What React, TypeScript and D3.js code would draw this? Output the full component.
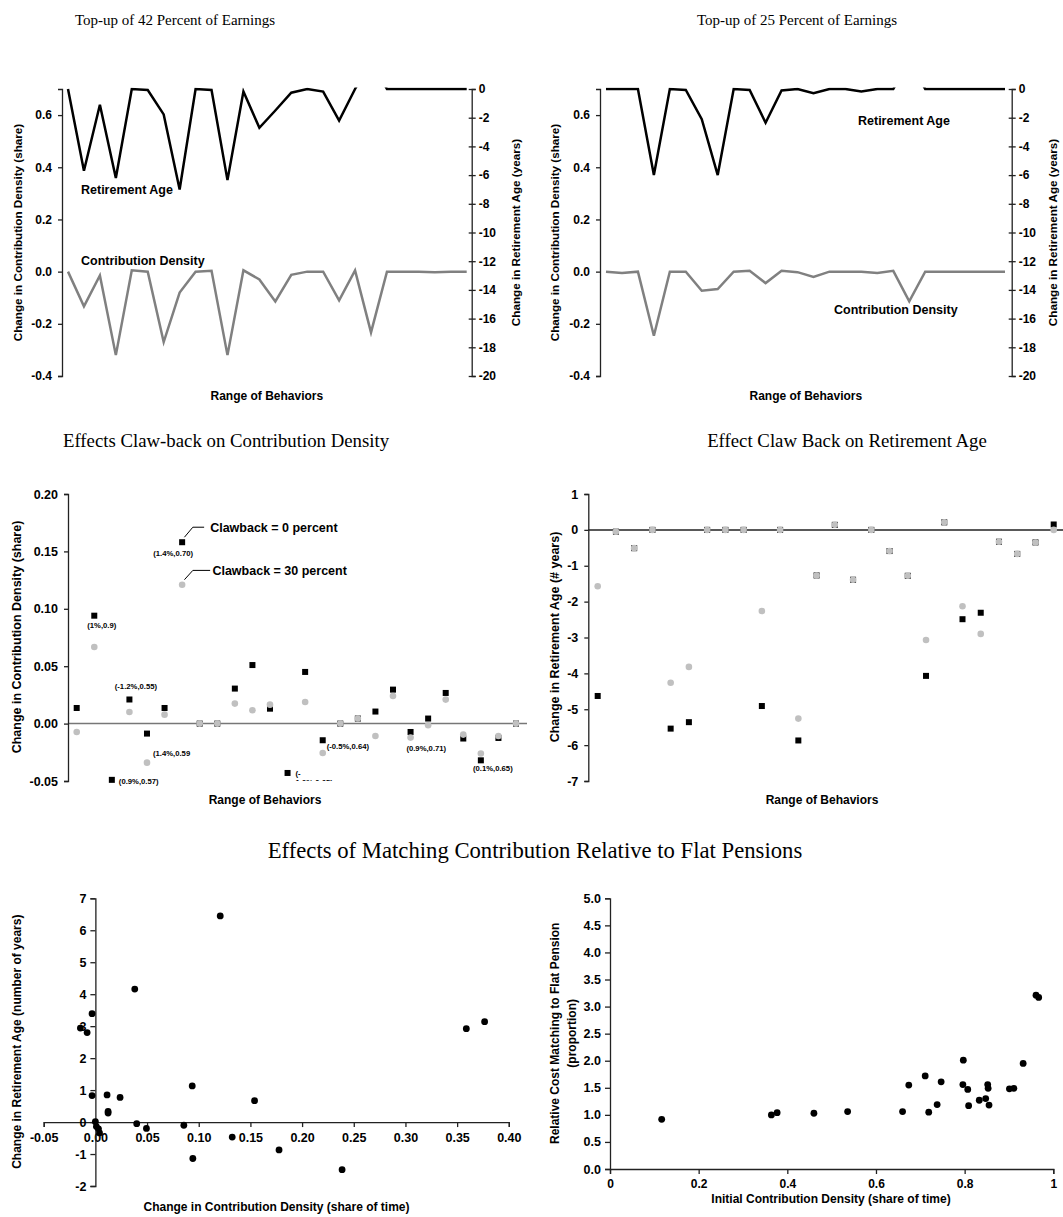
import React, { useEffect, useRef } from 'react';
import * as d3 from 'd3';

const SANS = "Arial, 'Liberation Sans', Helvetica, sans-serif";
const SERIF = "'Times New Roman', 'Liberation Serif', serif";

// 26 behaviour settings along "Range of Behaviors"
const behaviorIds = [1, 2, 3, 4, 5, 6, 7, 8, 9, 10, 11, 12, 13, 14, 15, 16, 17, 18, 19, 20, 21, 22, 23, 24, 25, 26];

// top-up panels (density on left axis, retirement age on right axis)
const topUp42Density = [0, -0.133, -0.015, -0.32, 0.005, 0, -0.27, -0.08, 0, 0.003, -0.32, 0.005, -0.03, -0.114, -0.012, 0, 0, -0.11, 0.005, -0.233, 0, 0, 0, -0.002, 0, 0];
const topUp42RetAge = [0, -5.7, -1.1, -6.2, 0, -0.07, -1.77, -7.0, 0, -0.07, -6.35, -0.18, -2.7, -1.5, -0.26, 0, -0.18, -2.2, 0, 2.0, 0, 0, 0, 0, 0, 0];
const topUp25Density = [0, -0.005, 0, -0.246, 0, 0, -0.073, -0.067, 0, 0.003, -0.044, 0.003, -0.002, -0.02, 0, 0, 0, -0.005, 0.003, -0.114, 0, 0, 0, 0, 0, 0];
const topUp25RetAge = [0, 0, 0, -6.0, 0, -0.07, -2.1, -6.0, 0, -0.07, -2.35, -0.1, 0, -0.3, 0, 0, -0.18, 0, 0, 2.0, 0, 0, 0, 0, 0, 0];
const densityTicks = [-0.4, -0.2, 0, 0.2, 0.4, 0.6];
const retAgeTicks = [0, -2, -4, -6, -8, -10, -12, -14, -16, -18, -20];

// claw-back panels
const claw0Density = [0.0136, 0.094, -0.049, 0.021, -0.0087, 0.0136, 0.158, 0, 0, 0.0305, 0.051, 0.013, -0.043, 0.045, -0.0145, 0, 0.0044, 0.0105, 0.0296, -0.0073, 0.0044, 0.0267, -0.013, -0.032, -0.0125, 0];
const claw30Density = [-0.0073, 0.0667, null, 0.0101, -0.034, 0.0078, 0.121, 0, 0, 0.0174, 0.0116, 0.0165, null, 0.0188, -0.0256, 0, 0.0044, -0.0108, 0.024, -0.0122, -0.0015, 0.0209, -0.0096, -0.026, -0.0108, 0];
const claw0RetAge = [-4.63, -0.05, -0.51, 0, -5.54, -5.36, 0, 0, 0, -4.91, 0, -5.87, -1.27, 0.14, -1.39, 0, -0.59, -1.28, -4.07, 0.21, -2.49, -2.31, -0.33, -0.67, -0.35, 0.15];
const claw30RetAge = [-1.57, -0.05, -0.51, 0, -4.26, -3.82, 0, 0, 0, -2.26, 0, -5.26, -1.27, 0.14, -1.39, 0, -0.59, -1.28, -3.07, 0.21, -2.13, -2.9, -0.33, -0.67, -0.35, 0];
const clawDensityTicks = [-0.05, 0, 0.05, 0.1, 0.15, 0.2];
const clawRetTicks = [1, 0, -1, -2, -3, -4, -5, -6, -7];
const clawNotes = [
  { idx: 6, text: '(1.4%,0.70)', dx: -9, dy: 14, anchor: 'middle', clip: false },
  { idx: 1, text: '(1%,0.9)', dx: 7.5, dy: 12, anchor: 'middle', clip: false },
  { idx: 3, text: '(-1.2%,0.55)', dx: 6.5, dy: -10, anchor: 'middle', clip: false },
  { idx: 4, text: '(1.4%,0.59', dx: 6, dy: 22, anchor: 'start', clip: false },
  { idx: 2, text: '(0.9%,0.57)', dx: 7, dy: 4.5, anchor: 'start', clip: false },
  { idx: 14, text: '(-0.5%,0.64)', dx: 4, dy: 9, anchor: 'start', clip: false },
  { idx: 19, text: '(0.9%,0.71)', dx: 15.7, dy: 19, anchor: 'middle', clip: false },
  { idx: 23, text: '(0.1%,0.65)', dx: 12, dy: 10.5, anchor: 'middle', clip: false },
  { idx: 12, text: '(-', dx: 8, dy: 3, anchor: 'start', clip: false },
  { idx: 12, text: '1.0%,0.65)', dx: 8, dy: 12, anchor: 'start', clip: true },
];

// matching vs flat pension
const matchDensityChange = [0.1208, 0.0381, -0.0032, -0.0145, -0.008, -0.0032, 0.0113, 0.0239, 0.0123, 0.0123, 0.0937, 0.154, 0, 0.001, 0.003, 0.004, 0.04, 0.0494, 0.0856, 0.1324, 0.0943, 0.1777, 0.2387, 0.3589, 0.3766];
const matchRetAgeChange = [6.45, 4.16, 3.39, 2.94, 2.8, 0.83, 0.85, 0.77, 0.33, 0.28, 1.13, 0.67, 0.01, -0.14, -0.21, -0.34, -0.05, -0.2, -0.1, -0.47, -1.14, -0.87, -1.49, 2.92, 3.14];
const matchXTicks = [-0.05, 0, 0.05, 0.1, 0.15, 0.2, 0.25, 0.3, 0.35, 0.4];
const matchYTicks = [-2, -1, 0, 1, 2, 3, 4, 5, 6, 7];
const initialDensity = [0.1166, 0.364, 0.377, 0.46, 0.536, 0.66, 0.674, 0.711, 0.719, 0.738, 0.747, 0.797, 0.796, 0.807, 0.809, 0.833, 0.8475, 0.852, 0.853, 0.855, 0.901, 0.911, 0.932, 0.961, 0.967];
const relativeCost = [0.918, 0.998, 1.04, 1.03, 1.06, 1.06, 1.55, 1.72, 1.05, 1.19, 1.61, 2.01, 1.56, 1.47, 1.17, 1.27, 1.3, 1.56, 1.49, 1.18, 1.48, 1.49, 1.95, 3.21, 3.17];
const costXTicks = [0, 0.2, 0.4, 0.6, 0.8, 1];
const costYTicks = [0, 0.5, 1, 1.5, 2, 2.5, 3, 3.5, 4, 4.5, 5];

function txt(g, x, y, s, size, opts: any = {}) {
  const t = g.append('text')
    .attr('x', x).attr('y', y).text(s)
    .attr('font-family', opts.serif ? SERIF : SANS)
    .attr('font-size', size)
    .attr('font-weight', opts.serif ? 'normal' : 'bold')
    .attr('text-anchor', opts.anchor || 'start')
    .attr('fill', '#000');
  return t;
}

function vtxt(g, x, y, s, size) {
  g.append('text')
    .attr('transform', `translate(${x},${y}) rotate(-90)`)
    .attr('dy', '0.35em')
    .attr('text-anchor', 'middle')
    .attr('font-family', SANS).attr('font-size', size).attr('font-weight', 'bold')
    .text(s);
}

function styleAxis(a, size) {
  a.attr('font-family', SANS).attr('font-size', size).attr('font-weight', 'bold');
  a.select('.domain').attr('stroke', '#222').attr('stroke-width', 1.3);
  a.selectAll('.tick line').attr('stroke', '#222').attr('stroke-width', 1.3);
  a.selectAll('.tick text').attr('fill', '#000');
}

const PT_TOP = 89, PT_BOTTOM = 376;

function drawTopUp(svg, c) {
  const g = svg.append('g');
  const x = d3.scaleLinear().domain([0, behaviorIds.length - 1]).range([c.first, c.last]);
  const yL = d3.scaleLinear().domain([-0.4, 0.7]).range([PT_BOTTOM, PT_TOP]);
  const yR = d3.scaleLinear().domain([-20, 0]).range([PT_BOTTOM, PT_TOP]);

  // retirement-age values above zero run off the top of the plot
  g.append('clipPath').attr('id', c.id).append('rect')
    .attr('x', c.left).attr('y', PT_TOP - 1.5)
    .attr('width', c.right - c.left).attr('height', PT_BOTTOM - PT_TOP + 1.5);

  const lineL = d3.line<number>().x((d, i) => x(i)).y(d => yL(d));
  const lineR = d3.line<number>().x((d, i) => x(i)).y(d => yR(d));

  g.append('path').datum(c.density).attr('d', lineL)
    .attr('fill', 'none').attr('stroke', '#808080').attr('stroke-width', 2.5);
  g.append('path').datum(c.retAge).attr('d', lineR)
    .attr('fill', 'none').attr('stroke', '#000').attr('stroke-width', 2.5)
    .attr('clip-path', `url(#${c.id})`);

  const aL = g.append('g').attr('transform', `translate(${c.left},0)`)
    .call(d3.axisLeft(yL).tickValues(densityTicks).tickFormat(d => (+d).toFixed(1)).tickSizeOuter(0).tickSize(4).tickPadding(6));
  styleAxis(aL, 12);
  const aR = g.append('g').attr('transform', `translate(${c.right},0)`)
    .call(d3.axisRight(yR).tickValues(retAgeTicks).tickFormat(d => String(d)).tickSizeOuter(0).tickSize(4).tickPadding(3));
  styleAxis(aR, 12);
  aR.selectAll('.tick line').attr('x1', -3);

  txt(g, c.titleX, 25, c.title, 15, { serif: true, anchor: 'middle' });
  txt(g, c.retLabel[0], c.retLabel[1], 'Retirement Age', 12.5);
  txt(g, c.densLabel[0], c.densLabel[1], 'Contribution Density', 12.5);
  txt(g, (c.left + c.right) / 2, 400, 'Range of Behaviors', 12, { anchor: 'middle' });
  vtxt(g, c.leftTitleX, 232.5, 'Change in Contribution Density (share)', 11.7);
  vtxt(g, c.rightTitleX, 232.5, 'Change in Retirement Age (years)', 11.7);
}

function drawClawDensity(svg) {
  const g = svg.append('g');
  const left = 68, right = 527, top = 494, bottom = 781;
  const x = d3.scaleLinear().domain([0, behaviorIds.length - 1]).range([76.7, 516]);
  const y = d3.scaleLinear().domain([-0.05, 0.2]).range([bottom, top]);

  g.append('clipPath').attr('id', 'clipClaw').append('rect')
    .attr('x', 0).attr('y', top).attr('width', right).attr('height', bottom - top);

  g.append('line').attr('x1', left).attr('x2', right).attr('y1', y(0)).attr('y2', y(0))
    .attr('stroke', '#777').attr('stroke-width', 1.5);

  const a = g.append('g').attr('transform', `translate(${left},0)`)
    .call(d3.axisLeft(y).tickValues(clawDensityTicks).tickFormat(d => (+d).toFixed(2)).tickSizeOuter(0).tickSize(4).tickPadding(6));
  styleAxis(a, 12.5);

  g.selectAll('rect.c0').data(claw0Density).enter().append('rect')
    .attr('x', (d, i) => x(i) - 3).attr('y', d => y(d) - 3)
    .attr('width', 6).attr('height', 6).attr('fill', '#000');
  g.selectAll('circle.c30').data(claw30Density.map((v, i) => ({ v, i })).filter(d => d.v !== null)).enter().append('circle')
    .attr('cx', d => x(d.i)).attr('cy', d => y(d.v)).attr('r', 3.3).attr('fill', '#c0c0c0');

  clawNotes.forEach(n => {
    const t = txt(g, x(n.idx) + n.dx, y(claw0Density[n.idx]) + n.dy, n.text, 7.7, { anchor: n.anchor });
    if (n.clip) t.attr('clip-path', 'url(#clipClaw)');
  });

  // callouts for the two series
  const px = x(6), p0 = y(claw0Density[6]), p30 = y(claw30Density[6] as number);
  g.append('path').attr('d', `M${px + 2.3},${p0 - 5}L${px + 10.7},${p0 - 15}L${px + 22},${p0 - 15}`)
    .attr('fill', 'none').attr('stroke', '#000').attr('stroke-width', 1);
  g.append('path').attr('d', `M${px + 2.3},${p30 - 5}L${px + 10.7},${p30 - 14.3}L${px + 28},${p30 - 14.3}`)
    .attr('fill', 'none').attr('stroke', '#000').attr('stroke-width', 1);
  txt(g, px + 28, p0 - 10, 'Clawback = 0 percent', 12.5);
  txt(g, px + 30.3, p30 - 9.5, 'Clawback = 30 percent', 12.5);

  txt(g, 226, 447, 'Effects Claw-back on Contribution Density', 18.8, { serif: true, anchor: 'middle' });
  txt(g, 265, 804, 'Range of Behaviors', 12, { anchor: 'middle' });
  vtxt(g, 17, 637, 'Change in Contribution Density (share)', 12.5);
}

function drawClawRetAge(svg) {
  const g = svg.append('g');
  const left = 588.3, right = 1063, top = 494, bottom = 781;
  const x = d3.scaleLinear().domain([0, behaviorIds.length - 1]).range([597.7, 1053.7]);
  const y = d3.scaleLinear().domain([-7, 1]).range([bottom, top]);

  g.append('line').attr('x1', left).attr('x2', right).attr('y1', y(0)).attr('y2', y(0))
    .attr('stroke', '#222').attr('stroke-width', 1.5);
  const a = g.append('g').attr('transform', `translate(${left},0)`)
    .call(d3.axisLeft(y).tickValues(clawRetTicks).tickFormat(d => String(d)).tickSizeOuter(0).tickSize(4).tickPadding(6));
  styleAxis(a, 12.5);

  g.selectAll('rect.c0').data(claw0RetAge).enter().append('rect')
    .attr('x', (d, i) => x(i) - 3).attr('y', d => y(d) - 3)
    .attr('width', 6).attr('height', 6).attr('fill', '#000');
  g.selectAll('circle.c30').data(claw30RetAge).enter().append('circle')
    .attr('cx', (d, i) => x(i)).attr('cy', d => y(d)).attr('r', 3.3).attr('fill', '#c0c0c0');

  txt(g, 847, 447, 'Effect Claw Back on Retirement Age', 18.8, { serif: true, anchor: 'middle' });
  txt(g, 822, 804, 'Range of Behaviors', 12, { anchor: 'middle' });
  vtxt(g, 555, 637, 'Change in Retirement Age (# years)', 12.5);
}

function drawMatching(svg) {
  const g = svg.append('g');
  const x = d3.scaleLinear().domain([-0.05, 0.4]).range([43.7, 508.8]);
  const y = d3.scaleLinear().domain([-2, 7]).range([1186, 898.3]);

  const ax = g.append('g').attr('transform', `translate(0,${y(0)})`)
    .call(d3.axisBottom(x).tickValues(matchXTicks).tickFormat(d => (+d).toFixed(2)).tickSizeOuter(0).tickSize(5).tickPadding(6));
  styleAxis(ax, 12.5);
  const ay = g.append('g').attr('transform', `translate(${x(0)},0)`)
    .call(d3.axisLeft(y).tickValues(matchYTicks).tickFormat(d => String(d)).tickSizeOuter(0).tickSize(5).tickPadding(4));
  styleAxis(ay, 12.5);

  g.selectAll('circle.m').data(matchDensityChange).enter().append('circle')
    .attr('cx', d => x(d)).attr('cy', (d, i) => y(matchRetAgeChange[i])).attr('r', 3.4).attr('fill', '#000');

  txt(g, 535, 858, 'Effects of Matching Contribution Relative to Flat Pensions', 22.7, { serif: true, anchor: 'middle' });
  txt(g, 276.5, 1211, 'Change in Contribution Density (share of time)', 12, { anchor: 'middle' });
  vtxt(g, 17.2, 1041.7, 'Change in Retirement Age (number of years)', 12);
}

function drawCost(svg) {
  const g = svg.append('g');
  const x = d3.scaleLinear().domain([0, 1]).range([610, 1053.3]);
  const y = d3.scaleLinear().domain([0, 5]).range([1169, 898.3]);

  const ax = g.append('g').attr('transform', `translate(0,${y(0)})`)
    .call(d3.axisBottom(x).tickValues(costXTicks).tickFormat(d => String(d)).tickSizeOuter(0).tickSize(5).tickPadding(5));
  styleAxis(ax, 12);
  const ay = g.append('g').attr('transform', `translate(${x(0)},0)`)
    .call(d3.axisLeft(y).tickValues(costYTicks).tickFormat(d => (+d).toFixed(1)).tickSizeOuter(0).tickSize(5).tickPadding(4));
  styleAxis(ay, 12.5);

  g.selectAll('circle.c').data(initialDensity).enter().append('circle')
    .attr('cx', d => x(d)).attr('cy', (d, i) => y(relativeCost[i])).attr('r', 3.4).attr('fill', '#000');

  txt(g, 831, 1203, 'Initial Contribution Density (share of time)', 12, { anchor: 'middle' });
  vtxt(g, 555, 1033.3, 'Relative Cost Matching to Flat Pension', 12);
  vtxt(g, 571.7, 1033.3, '(proportion)', 12);
}

export default function App() {
  const ref = useRef<SVGSVGElement>(null);

  useEffect(() => {
    const svg = d3.select(ref.current);
    svg.selectAll('*').remove();
    drawTopUp(svg, {
      id: 'clipTop42', left: 62, right: 471.7, first: 68, last: 466.7,
      density: topUp42Density, retAge: topUp42RetAge,
      title: 'Top-up of 42 Percent of Earnings', titleX: 175,
      retLabel: [81, 193.5], densLabel: [81, 264.5], leftTitleX: 17.7, rightTitleX: 516,
    });
    drawTopUp(svg, {
      id: 'clipTop25', left: 600, right: 1011.7, first: 606, last: 1005,
      density: topUp25Density, retAge: topUp25RetAge,
      title: 'Top-up of 25 Percent of Earnings', titleX: 797,
      retLabel: [858, 125], densLabel: [834, 314], leftTitleX: 555, rightTitleX: 1053,
    });
    drawClawDensity(svg);
    drawClawRetAge(svg);
    drawMatching(svg);
    drawCost(svg);
  }, []);

  return (
    <svg ref={ref} width={1063} height={1217}
      style={{ position: 'absolute', left: 0, top: 0, background: '#fff' }} />
  );
}
